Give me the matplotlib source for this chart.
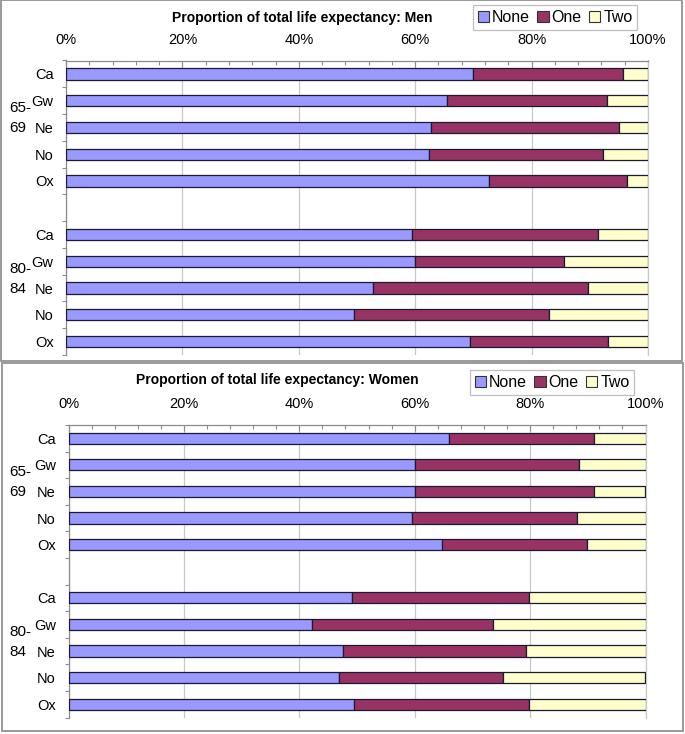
import numpy as np
import matplotlib
matplotlib.use("Agg")
import matplotlib.pyplot as plt
import matplotlib.ticker as ticker
from matplotlib.patches import Patch, Rectangle
from matplotlib.transforms import blended_transform_factory

plt.rcParams["font.family"] = ["Liberation Sans", "DejaVu Sans"]

# ── Data (proportion of total life expectancy, %) ─────────────────────────────
sites = ["Ca", "Gw", "Ne", "No", "Ox"]
age_groups = ["65-69", "80-84"]
series = ["None", "One", "Two"]

men_none_6569 = [70.0, 65.5, 62.8, 62.4, 72.7]
men_one_6569 = [25.7, 27.4, 32.2, 29.8, 23.7]
men_two_6569 = [4.3, 7.1, 5.0, 7.8, 3.6]
men_none_8084 = [59.5, 59.9, 52.7, 49.5, 69.4]
men_one_8084 = [31.9, 25.6, 37.0, 33.5, 23.8]
men_two_8084 = [8.6, 14.5, 10.3, 17.0, 6.8]

women_none_6569 = [66.0, 60.0, 60.0, 59.5, 64.7]
women_one_6569 = [25.0, 28.4, 31.0, 28.6, 25.2]
women_two_6569 = [9.0, 11.6, 9.0, 11.9, 10.1]
women_none_8084 = [49.1, 42.2, 47.6, 46.9, 49.4]
women_one_8084 = [30.7, 31.3, 31.7, 28.4, 30.4]
women_two_8084 = [20.2, 26.5, 20.7, 24.7, 20.2]

COLORS = ["#9999FF", "#993366", "#FFFFCC"]
GRAY = "#8c8c8c"
W, H = 685, 734


def px_box(x0, y0, x1, y1):
    """pixel box (top-left origin) -> figure fraction rect"""
    return [x0 / W, 1 - y1 / H, (x1 - x0) / W, (y1 - y0) / H]


def draw_panel(fig, rect, title, title_xy, legend_xy, groups):
    ax = fig.add_axes(rect)
    n = len(sites)
    labels = []
    positions = []
    for g, (age, vals) in enumerate(zip(age_groups, groups)):
        base = g * (n + 1)
        ypos = np.arange(n) + base
        left = np.zeros(n)
        for k, v in enumerate(vals):
            v = np.array(v) / 100.0
            ax.barh(ypos, v, left=left, height=0.42, color=COLORS[k],
                    edgecolor="#1a1a33", linewidth=0.9, zorder=3)
            left += v
        positions.extend(ypos)
        labels.extend(sites)

        # group label on two lines, left of site names
        tr = blended_transform_factory(fig.transFigure, ax.transData)
        a, b = age.split("-")
        ax.text(9 / W, base + 1.27, a + "-", transform=tr, ha="left",
                va="center", fontsize=11)
        ax.text(9 / W, base + 2.02, b, transform=tr, ha="left",
                va="center", fontsize=11)

    total = len(age_groups) * (n + 1) - 1
    ax.set_ylim(total - 0.5, -0.5)
    ax.set_xlim(0, 1)

    ax.set_yticks(positions)
    ax.set_yticklabels(labels, fontsize=10.5)
    ax.set_yticks(np.arange(-0.5, total + 0.5, 1.0), minor=True)
    ax.tick_params(axis="y", which="major", length=0, pad=9)
    ax.tick_params(axis="y", which="minor", length=3, color=GRAY,
                   direction="out", width=0.8)

    ax.xaxis.tick_top()
    ax.set_xticks(np.arange(0, 1.01, 0.2))
    ax.xaxis.set_minor_locator(ticker.MultipleLocator(0.04))
    ax.xaxis.set_major_formatter(ticker.PercentFormatter(1.0, decimals=0))
    ax.tick_params(axis="x", which="both", direction="in", color=GRAY,
                   labelsize=10.5, pad=10, width=0.8)
    ax.tick_params(axis="x", which="major", length=4)
    ax.tick_params(axis="x", which="minor", length=3)
    ax.grid(axis="x", which="major", color="#c8c8c8", linewidth=0.9, zorder=0)
    ax.set_axisbelow(True)

    for side in ["top", "left"]:
        ax.spines[side].set_color(GRAY)
        ax.spines[side].set_linewidth(0.9)
    ax.spines["right"].set_color("#c8c8c8")
    ax.spines["right"].set_linewidth(0.9)
    ax.spines["bottom"].set_visible(False)

    fig.text(title_xy[0] / W, 1 - title_xy[1] / H, title, ha="center",
             va="center", fontsize=10, fontweight="bold")

    handles = [Patch(facecolor=c, edgecolor="#333333", linewidth=0.8)
               for c in COLORS]
    leg = ax.legend(handles, series, loc="upper left", ncol=3,
                    bbox_to_anchor=(legend_xy[0] / W, 1 - legend_xy[1] / H),
                    bbox_transform=fig.transFigure, fontsize=11.5,
                    frameon=True, fancybox=False, handlelength=0.7,
                    handleheight=0.7, handletextpad=0.2, columnspacing=0.45,
                    borderpad=0.3, borderaxespad=0)
    leg.get_frame().set_edgecolor("#b0b0b0")
    leg.get_frame().set_linewidth(0.9)
    return ax


fig = plt.figure(figsize=(W / 100, H / 100), dpi=100)

# panel borders
for box in [px_box(0.5, 0.5, 682, 361), px_box(2, 363, 683, 731)]:
    fig.patches.append(Rectangle((box[0], box[1]), box[2], box[3],
                                 transform=fig.transFigure, fill=False,
                                 edgecolor="#9a9a9a", linewidth=1.4))

draw_panel(fig, px_box(66, 60.5, 648, 355),
           "Proportion of total life expectancy: Men", (302, 18), (473, 5),
           [[men_none_6569, men_one_6569, men_two_6569],
            [men_none_8084, men_one_8084, men_two_8084]])

draw_panel(fig, px_box(68.5, 425, 645.5, 717.5),
           "Proportion of total life expectancy: Women", (277, 380), (470, 370),
           [[women_none_6569, women_one_6569, women_two_6569],
            [women_none_8084, women_one_8084, women_two_8084]])

fig.savefig("out.png", dpi=100)
